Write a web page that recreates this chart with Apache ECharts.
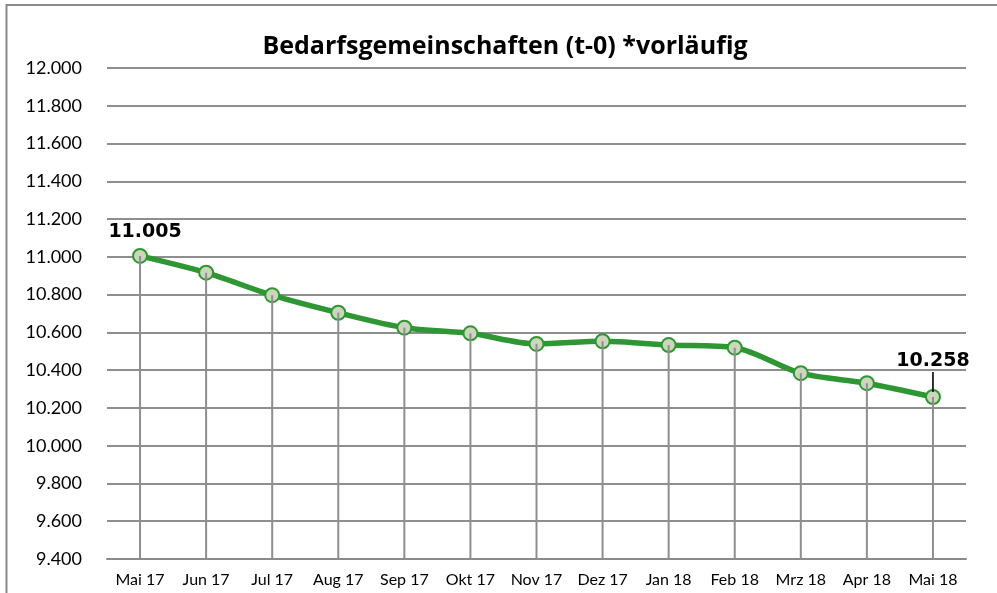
<!DOCTYPE html>
<html><head><meta charset="utf-8">
<script src="https://cdn.jsdelivr.net/npm/echarts@6/dist/echarts.min.js"></script>
<style>html,body{margin:0;padding:0;background:#fff}#c{width:997px;height:593px}</style>
</head><body><div id="c"></div>
<script>
var titleText = 'Bedarfsgemeinschaften (t-0) *vorläufig';
var categories = ['Mai 17','Jun 17','Jul 17','Aug 17','Sep 17','Okt 17','Nov 17','Dez 17','Jan 18','Feb 18','Mrz 18','Apr 18','Mai 18'];
var values = [11005, 10916, 10797, 10704, 10625, 10595, 10539, 10553, 10533, 10519, 10384, 10331, 10258];
var labeledIdx = [0, 12];
var yMin = 9400, yMax = 12000, yStep = 200;

function de(v){ return String(v).replace(/\B(?=(\d{3})+(?!\d))/g, '.'); }

var lineData = values.map(function(v, i){
  if (i === labeledIdx[0]) return {value: v, label: {show: true, position: 'top', distance: 6, offset: [5, 0], formatter: function(p){return de(p.value);}}};
  if (i === labeledIdx[1]) return {value: v, label: {show: true, position: 'top', distance: 6, offset: [0, 9], formatter: function(p){return '{v|' + de(p.value) + '}\n{l|}';},
    rich: {v: {fontFamily: 'DejaVu Sans', fontWeight: 'bold', fontSize: 19, color: '#000', lineHeight: 22, align: 'center'},
           l: {width: 1.6, height: 20, backgroundColor: '#000', align: 'center'}}}};
  return v;
});

var chart = echarts.init(document.getElementById('c'), null, {renderer: 'canvas'});
chart.setOption({
  animation: false,
  backgroundColor: '#fff',
  graphic: [
    {type: 'rect', shape: {x: 6.5, y: 5, width: 1000, height: 600}, style: {fill: 'none', stroke: '#8a8a8a', lineWidth: 2}, z: 100},
    {type: 'text', x: 505, y: 47, style: {text: titleText, font: 'bold 25px "Open Sans"', fill: '#000', textAlign: 'center', textVerticalAlign: 'middle'}}
  ],
  grid: {left: 107, right: 31, top: 68, bottom: 34, containLabel: false},
  xAxis: {
    type: 'category', data: categories, boundaryGap: true,
    axisLine: {show: true, lineStyle: {color: '#8a8a8a', width: 2}},
    axisTick: {show: false},
    axisLabel: {color: '#000', fontFamily: 'Lato', fontSize: 16, margin: 13, interval: 0},
    splitLine: {show: false}
  },
  yAxis: {
    type: 'value', min: yMin, max: yMax, interval: yStep,
    axisLine: {show: false}, axisTick: {show: false},
    axisLabel: {color: '#000', fontFamily: 'Lato', fontSize: 18, margin: 25, formatter: function(v){return de(v);}},
    splitLine: {show: true, lineStyle: {color: '#8e8e8e', width: 2}}
  },
  series: [
    {
      type: 'line', data: lineData, smooth: 0.3, z: 2,
      lineStyle: {color: '#2e9632', width: 5.5},
      symbol: 'circle', symbolSize: 14,
      itemStyle: {color: '#cbd6bd', borderColor: '#2e9632', borderWidth: 2},
      label: {show: false, color: '#000', fontFamily: 'DejaVu Sans', fontWeight: 'bold', fontSize: 19}
    },
    {
      type: 'bar', data: values, barWidth: 2, z: 3, clip: true, silent: true,
      itemStyle: {color: '#8e8e8e'}
    }
  ]
});
</script></body></html>
